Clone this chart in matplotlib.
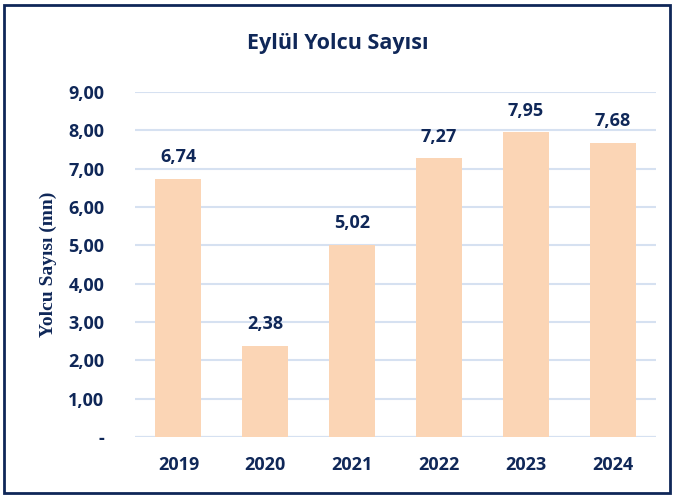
import matplotlib
matplotlib.use("Agg")
import matplotlib.pyplot as plt
import matplotlib.patches as mpatches
from matplotlib.ticker import FuncFormatter

# Chart data
years = ["2019", "2020", "2021", "2022", "2023", "2024"]
passengers = [6.74, 2.38, 5.02, 7.27, 7.95, 7.68]

navy = "#0F2758"
barColor = "#FBD5B5"
gridColor = "#D6E1F1"

plt.rcParams['font.family'] = ['Open Sans', 'DejaVu Sans']

fig = plt.figure(figsize=(6.75, 4.97), dpi=100)
ax = fig.add_axes([135/675, 1 - 437/497, 521/675, (437 - 92)/497])

x = range(len(years))
bars = ax.bar(x, passengers, width=0.53, color=barColor, zorder=3)

# Value labels above bars
for i, v in enumerate(passengers):
    ax.annotate("{:.2f}".format(v).replace(".", ","), (i, v),
                xytext=(0, 9), textcoords="offset points",
                ha="center", va="bottom", fontsize=13, fontweight="bold", color=navy)

ax.set_xlim(-0.5, len(years) - 0.5)
ax.set_ylim(0, 9)
ax.set_yticks(range(10))
ax.yaxis.set_major_formatter(FuncFormatter(lambda v, p: "-" if v == 0 else "{:.2f}".format(v).replace(".", ",")))
ax.set_xticks(list(x))
ax.set_xticklabels(years)

ax.grid(axis="y", color=gridColor, linewidth=1.5, zorder=0)
ax.axhline(0, color="#D0D6E0", linewidth=1.5, zorder=1)
for s in ax.spines.values():
    s.set_visible(False)
ax.tick_params(length=0, labelsize=13, colors=navy)
for lbl in ax.get_xticklabels() + ax.get_yticklabels():
    lbl.set_fontweight("bold")
ax.tick_params(axis="y", pad=22)
ax.tick_params(axis="x", pad=14)

ax.set_ylabel("Yolcu Sayısı (mn)", fontsize=14, fontweight="bold", color=navy,
              family=["Liberation Serif"])
ax.yaxis.set_label_coords(-0.15, 0.5)

fig.text(0.5, 1 - 44/497, "Eylül Yolcu Sayısı", ha="center", va="center",
         fontsize=15.5, fontweight="bold", color=navy)

# Frame around the whole chart
fig.patches.append(mpatches.Rectangle((4/675, 4/497), 666/675, 488/497, transform=fig.transFigure,
                                      fill=False, edgecolor=navy, linewidth=2))

fig.savefig("out.png", dpi=100)
